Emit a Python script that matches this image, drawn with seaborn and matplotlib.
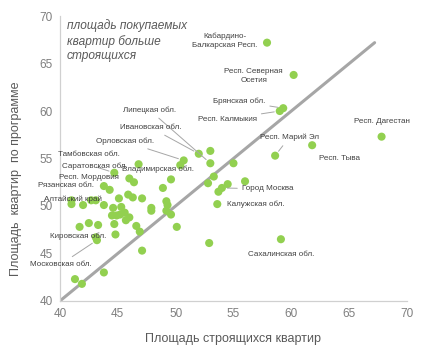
import pandas as pd
import numpy as np
import matplotlib.pyplot as plt
import seaborn as sns

# площадь строящихся квартир (x) и квартир по программе (y), кв. м
build_area = [57.9, 60.2, 59.3, 59.0, 67.8, 61.8, 58.6, 55.0, 59.1, 53.6,
              56.0, 54.5, 54.0, 53.7, 53.3, 52.8, 53.0, 53.0, 52.0, 50.7,
              50.4, 49.6, 49.6, 50.1, 52.9, 44.7, 46.8, 46.0, 46.4, 43.8,
              44.3, 48.9, 41.0, 41.0, 42.0, 42.7, 43.1, 43.8, 45.1, 45.9,
              46.3, 47.1, 49.2, 49.3, 44.6, 45.3, 47.9, 47.9, 49.2, 44.5,
              44.9, 45.2, 45.6, 46.0, 45.7, 44.7, 46.6, 43.3, 42.5, 41.7,
              44.8, 43.1, 43.2, 46.9, 47.1, 43.8, 41.3, 41.9]
program_area = [67.2, 63.8, 60.3, 60.0, 57.3, 56.4, 55.3, 54.5, 46.5, 50.2,
                52.6, 52.3, 51.9, 51.5, 53.1, 52.4, 55.8, 54.5, 55.5, 54.8,
                54.3, 52.8, 49.1, 47.8, 46.1, 53.5, 54.4, 52.9, 52.5, 52.1,
                51.7, 51.9, 50.6, 50.2, 50.1, 50.6, 50.6, 50.1, 50.8, 51.2,
                50.9, 50.8, 50.5, 50.1, 49.8, 49.9, 49.8, 49.5, 49.5, 49.0,
                49.0, 49.1, 49.3, 48.8, 48.5, 48.1, 47.9, 48.0, 48.2, 47.8,
                47.0, 46.7, 46.4, 47.3, 45.3, 43.0, 42.3, 41.8]

# подписи: индекс точки -> название
label_names = {
    0: "Кабардино-\nБалкарская Респ.",
    1: "Респ. Северная\nОсетия",
    2: "Брянская обл.",
    3: "Респ. Калмыкия",
    4: "Респ. Дагестан",
    5: "Респ. Тыва",
    6: "Респ. Марий Эл",
    8: "Сахалинская обл.",
    9: "Калужская обл.",
    12: "Город Москва",
    17: "Липецкая обл.",
    18: "Ивановская обл.",
    19: "Орловская обл.",
    26: "Тамбовская обл.",
    25: "Саратовская обл.",
    21: "Владимирская обл.",
    29: "Респ. Мордовия",
    30: "Рязанская обл.",
    58: "Алтайский край",
    61: "Кировская обл.",
    62: "Московская обл.",
}

# смещения подписей в пикселях (dx, dy, ha, выноска)
label_layout = {
    0: (-42, 2, "center", False),
    1: (-40, -1, "center", False),
    2: (-18, 7, "right", True),
    3: (-23, -8, "right", True),
    4: (0, 15, "center", False),
    5: (27, -13, "center", False),
    6: (14, 18, "center", True),
    8: (0, -15, "center", False),
    9: (10, 0, "left", False),
    12: (20, -1, "left", True),
    17: (-34, 53, "right", True),
    18: (-17, 26, "right", True),
    19: (-30, 19, "right", True),
    26: (-50, 10, "center", False),
    25: (-19, 6, "center", True),
    21: (-13, 10, "center", False),
    29: (-15, 9, "center", False),
    30: (-44, 4, "center", False),
    58: (-16, 24, "center", False),
    61: (-18, 1, "center", False),
    62: (-36, -24, "center", True),
}

df = pd.DataFrame({"x": build_area, "y": program_area})

sns.set_theme(style="white")
plt.rcParams["font.family"] = ["Liberation Sans", "DejaVu Sans"]

fig, ax = plt.subplots(figsize=(4.28, 3.57), dpi=100)
fig.subplots_adjust(left=0.140, right=0.951, bottom=0.157, top=0.955)

# линия равенства
ax.plot([40, 67.2], [40, 67.2], color="#a6a6a6", linewidth=2.2, zorder=1)

sns.scatterplot(data=df, x="x", y="y", ax=ax, color="#92d050", s=34,
                edgecolor="none", zorder=3)

for i, name in label_names.items():
    dx, dy, ha, leader = label_layout[i]
    arrow = None
    if leader:
        arrow = dict(arrowstyle="-", color="#a6a6a6", lw=0.7, shrinkA=1, shrinkB=4)
    ax.annotate(name, (build_area[i], program_area[i]), xytext=(dx, dy),
                textcoords="offset pixels", ha=ha, va="center",
                fontsize=5.8, color="#404040", linespacing=1.3,
                arrowprops=arrow, zorder=4)

ax.text(0.02, 0.99, "площадь покупаемых\nквартир больше\nстроящихся",
        transform=ax.transAxes, ha="left", va="top", fontsize=8.6,
        style="italic", color="#595959", linespacing=1.3)

ax.set_xlim(40, 70)
ax.set_ylim(40, 70)
ax.set_xticks(range(40, 71, 5))
ax.set_yticks(range(40, 71, 5))
ax.tick_params(axis="both", length=0, labelsize=8.5, labelcolor="#7f7f7f", pad=5)

for side in ["top", "right"]:
    ax.spines[side].set_visible(False)
for side in ["left", "bottom"]:
    ax.spines[side].set_color("#d0d0d0")
    ax.spines[side].set_linewidth(0.9)

ax.set_xlabel("Площадь строящихся квартир", fontsize=9, color="#595959")
ax.set_ylabel("Площадь  квартир  по программе", fontsize=9, color="#595959")
ax.xaxis.set_label_coords(0.5, -0.112)
ax.yaxis.set_label_coords(-0.11, 0.43)

plt.savefig("out.png", dpi=100)
